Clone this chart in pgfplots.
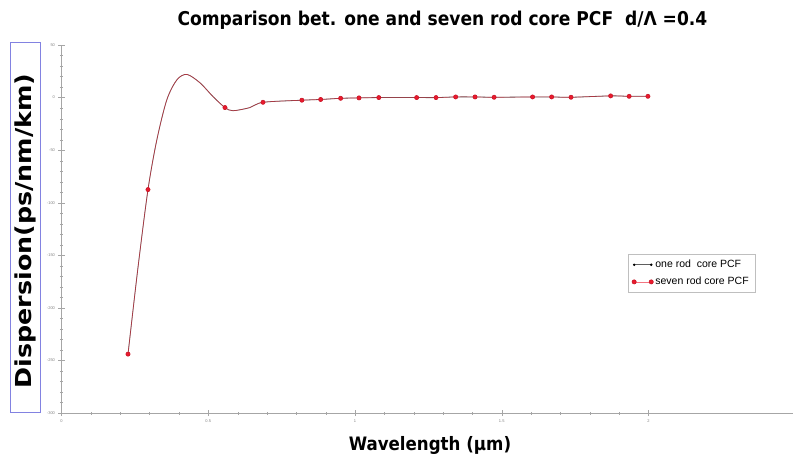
\documentclass[border=0pt]{standalone}
\usepackage{fontspec}
\setmainfont{Liberation Sans}
\newfontfamily\titlefont{DejaVu Sans Condensed}
\usepackage{pgfplots}
\pgfplotsset{compat=1.18}
\usepackage{pgfplotstable}
\definecolor{curvered}{RGB}{235,25,45}
\definecolor{curvegray}{RGB}{95,95,95}
\definecolor{boxblue}{RGB}{130,130,225}
\pgfplotstableread{
x y
0.2266 -244
0.2600 -163
0.2947 -87.5
0.325 -40
0.359 -2
0.3935 17
0.4276 22
0.472 14
0.516 1
0.557 -9.5
0.584 -12.5
0.642 -9.5
0.6865 -4.5
0.819 -2.5
0.883 -1.8
0.951 -0.7
1.0136 -0.3
1.081 0
1.210 0
1.276 0
1.343 0.6
1.409 0.6
1.474 0.3
1.605 0.6
1.670 0.6
1.736 0.3
1.871 1.6
1.934 1.2
1.998 1.2
}\dispdata
\begin{document}
\begin{tikzpicture}
\useasboundingbox (-61.5pt,-46pt) rectangle (731.5pt,413pt);
\begin{axis}[
  scale only axis,
  width=733.75pt, height=368pt,
  xmin=0, xmax=2.5, ymin=-300, ymax=50,
  axis lines=left,
  axis line style={-, draw=gray!70, line width=0.6pt},
  tick align=center,
  major tick length=6pt, minor tick length=3pt,
  tick style={draw=gray!70},
  xtick={0,0.5,1,1.5,2}, xticklabels={0,0.5,1,1.5,2},
  ytick={50,0,-50,-100,-150,-200,-250,-300},
  minor x tick num=4, minor y tick num=4,
  ticklabel style={font=\fontsize{4}{5}\selectfont, text=gray},
  /pgf/number format/assume math mode=true,
  legend style={at={(rel axis cs:0.945,0.432)}, anchor=north east,
    draw=gray!50, font=\fontsize{10.5}{12}\selectfont, row sep=4pt,
    inner sep=4pt},
  legend cell align=left,
  clip=false,
]
\addplot[curvegray, line width=0.8pt, smooth, mark=*, mark size=0.8pt,
  mark indices={1,3,10,13,14,15,16,17,18,19,20,21,22,23,24,25,26,27,28,29},
  mark options={black}] table[x=x,y=y] {\dispdata};
\addlegendentry{one rod\ \ core PCF}
\addplot[curvered, line width=0.6pt, opacity=0.6, smooth, mark=*, mark size=2.1pt,
  mark indices={1,3,10,13,14,15,16,17,18,19,20,21,22,23,24,25,26,27,28,29},
  mark options={fill=curvered, draw=curvered!85!black, opacity=1}] table[x=x,y=y] {\dispdata};
\addlegendentry{seven rod core PCF}
\end{axis}
\node[font=\titlefont\bfseries\fontsize{19}{22}\selectfont] at (381pt,393pt) {Comparison bet. one and seven rod core PCF\ \ d/Λ =0.4};
\node[font=\titlefont\bfseries\fontsize{18.5}{22}\selectfont] at (368.5pt,-32pt) {Wavelength (µm)};
\draw[boxblue, line width=0.6pt] (-51.5pt,1pt) rectangle (-21.5pt,371pt);
\node[rotate=90, font=\titlefont\bfseries\fontsize{22}{26}\selectfont] at (-36.5pt,182pt) {\scalebox{1.28}[1]{Dispersion(ps/nm/km)}};
\end{tikzpicture}
\end{document}
